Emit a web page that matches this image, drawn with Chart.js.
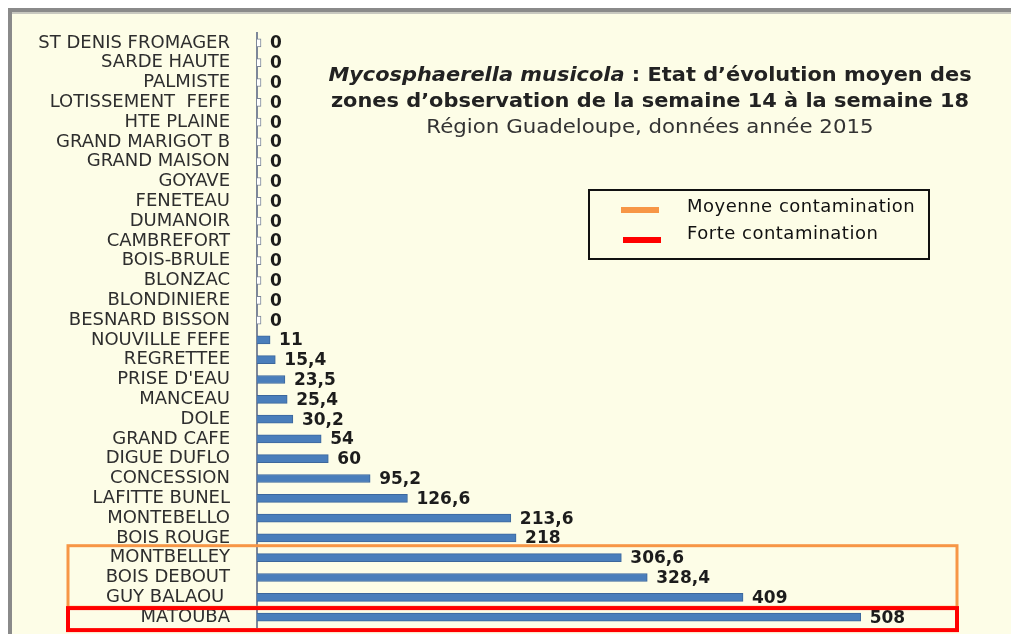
<!DOCTYPE html>
<html>
<head>
<meta charset="utf-8">
<script src="https://cdn.jsdelivr.net/npm/chart.js@4.4.1/dist/chart.umd.min.js"></script>
<style>
  html, body { margin: 0; padding: 0; background: #ffffff; width: 1011px; height: 634px; overflow: hidden; }
  #frame { position: absolute; left: 8px; top: 8px; width: 1003px; height: 626px; background: #fdfde7;
           border-top: 4px solid #8a8a8a; border-left: 4px solid #8a8a8a; box-sizing: border-box; }
  #frame:after { content: ""; position: absolute; left: 0; right: 0; top: 0; height: 2px; background: #c8c8c0; }
  canvas { position: absolute; left: 0; top: 0; }
  #title { position: absolute; left: 300px; width: 700px; top: 61px; text-align: center; color: #222;
           font-family: "DejaVu Sans", Verdana, sans-serif; transform: scaleX(1.1); transform-origin: 350px 0; }
  #title .l1 { font-weight: bold; font-size: 19px; line-height: 26px; }
  #title .l3 { font-size: 19px; line-height: 27px; color: #333; transform: scaleX(1.02); }
  #legend { position: absolute; left: 588px; top: 189px; width: 342px; height: 71px; border: 2px solid #111;
            box-sizing: border-box; font-family: "DejaVu Sans", Verdana, sans-serif; font-size: 18px; color: #111;
            letter-spacing: 0.5px; }
  #legend .item { position: absolute; left: 97px; }
  #legend .sw { position: absolute; height: 6px; width: 38px; }
</style>
</head>
<body>
<div id="frame"></div>
<canvas id="c" width="1011" height="634"></canvas>
<div id="title">
  <div class="l1"><i>Mycosphaerella musicola</i> : Etat d’évolution moyen des</div>
  <div class="l1">zones d’observation de la semaine 14 à la semaine 18</div>
  <div class="l3">Région Guadeloupe, données année 2015</div>
</div>
<div id="legend">
  <div class="sw" style="left:31px; top:16px; background:#f79646;"></div>
  <div class="item" style="top:4px;">Moyenne contamination</div>
  <div class="sw" style="left:33px; top:46px; background:#ff0000;"></div>
  <div class="item" style="top:31px;">Forte contamination</div>
</div>
<script>
const categories = ['ST DENIS FROMAGER','SARDE HAUTE','PALMISTE','LOTISSEMENT  FEFE','HTE PLAINE','GRAND MARIGOT B',
  'GRAND MAISON','GOYAVE','FENETEAU','DUMANOIR','CAMBREFORT','BOIS-BRULE','BLONZAC','BLONDINIERE','BESNARD BISSON',
  'NOUVILLE FEFE','REGRETTEE',"PRISE D'EAU",'MANCEAU','DOLE','GRAND CAFE','DIGUE DUFLO','CONCESSION','LAFITTE BUNEL',
  'MONTEBELLO','BOIS ROUGE','MONTBELLEY','BOIS DEBOUT','GUY BALAOU ','MATOUBA'];
const values = [0,0,0,0,0,0,0,0,0,0,0,0,0,0,0,11,15.4,23.5,25.4,30.2,54,60,95.2,126.6,213.6,218,306.6,328.4,409,508];
const orangeZone = ['MONTBELLEY','GUY BALAOU '];
const redZone = ['MATOUBA','MATOUBA'];

const valueLabels = {
  id: 'valueLabels',
  afterDatasetsDraw(chart) {
    const ctx = chart.ctx;
    const meta = chart.getDatasetMeta(0);
    ctx.save();
    ctx.font = 'bold 17px "DejaVu Sans", Verdana, sans-serif';
    ctx.fillStyle = '#1c1c1c';
    ctx.textAlign = 'left';
    ctx.textBaseline = 'middle';
    meta.data.forEach((bar, i) => {
      ctx.fillText(String(values[i]).replace('.', ','), bar.x + 9, bar.y + 1);
    });
    ctx.restore();
  }
};

const zones = {
  id: 'zones',
  afterDraw(chart) {
    const ctx = chart.ctx;
    const y = chart.scales.y;
    const px = (name) => y.getPixelForValue(categories.indexOf(name));
    ctx.save();
    ctx.lineWidth = 3;
    ctx.strokeStyle = '#f79646';
    let t = px(orangeZone[0]) - 12, b = px(orangeZone[1]) + 10;
    ctx.strokeRect(68, t, 957 - 68, b - t);
    ctx.lineWidth = 4;
    ctx.strokeStyle = '#ff0000';
    t = px(redZone[0]) - 9; b = px(redZone[1]) + 13;
    ctx.strokeRect(68, t, 957 - 68, b - t);
    ctx.restore();
  }
};

new Chart(document.getElementById('c'), {
  type: 'bar',
  data: {
    labels: categories,
    datasets: [{
      data: values,
      backgroundColor: values.map(v => v === 0 ? '#ffffff' : '#4a7ebb'),
      borderColor: values.map(v => v === 0 ? '#7a8496' : '#3c679c'),
      borderWidth: 1,
      barThickness: 8,
      minBarLength: 4
    }]
  },
  options: {
    indexAxis: 'y',
    responsive: false,
    devicePixelRatio: 1,
    animation: false,
    layout: { padding: { left: 0, right: 41, top: 33, bottom: 7 } },
    plugins: { legend: { display: false }, tooltip: { enabled: false }, title: { display: false } },
    scales: {
      x: { display: false, min: 0, max: 600 },
      y: {
        grid: { display: false, drawTicks: false },
        border: { display: true, color: '#7d8799', width: 2 },
        afterFit: (s) => { s.width = 257; s.paddingTop = 0; s.paddingBottom = 0; },
        ticks: {
          padding: 27,
          color: '#2e2e2e',
          font: { family: '"DejaVu Sans", Verdana, sans-serif', size: 18 },
          autoSkip: false
        }
      }
    }
  },
  plugins: [valueLabels, zones]
});
</script>
</body>
</html>
